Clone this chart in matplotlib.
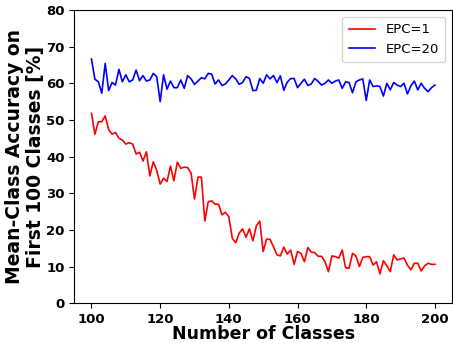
import matplotlib
matplotlib.use("Agg")
import matplotlib.pyplot as plt
import numpy as np

classes = list(range(100, 201))

epc1 = [51.8, 46.1, 49.5, 49.5, 51.1, 47.4, 46.1, 46.6, 45.0, 44.5,
        43.4, 43.8, 43.4, 40.7, 41.2, 38.8, 41.3, 34.7, 38.6, 36.2,
        32.5, 34.1, 33.2, 37.4, 33.4, 38.5, 36.8, 37.1, 37.0, 35.5,
        28.4, 34.4, 34.4, 22.4, 27.7, 27.9, 27.0, 27.0, 24.1, 24.8,
        23.6, 17.7, 16.5, 19.1, 20.3, 18.0, 20.3, 17.0, 21.1, 22.4,
        14.1, 17.5, 17.4, 15.4, 13.2, 12.9, 15.3, 13.4, 14.5, 10.6,
        14.1, 13.6, 11.3, 15.2, 13.9, 13.8, 12.8, 12.8, 11.3, 8.6,
        12.9, 12.7, 12.3, 14.5, 9.7, 9.5, 13.6, 12.9, 10.0, 12.5,
        12.7, 12.7, 10.4, 11.3, 8.0, 11.6, 10.2, 8.6, 13.2, 11.8,
        12.1, 12.3, 10.4, 9.1, 10.9, 10.9, 8.8, 10.2, 10.9, 10.6,
        10.6]

epc20 = [66.6, 61.1, 60.4, 57.3, 65.4, 58.0, 60.2, 59.5, 63.8, 60.4,
         62.3, 60.4, 60.9, 63.6, 60.7, 62.1, 60.6, 60.9, 62.7, 61.8,
         55.0, 62.3, 58.4, 60.6, 58.8, 58.8, 60.9, 58.6, 62.1, 61.2,
         59.7, 60.6, 61.5, 61.2, 62.7, 62.5, 59.8, 60.9, 59.4, 59.8,
         60.9, 62.1, 61.2, 59.7, 60.2, 61.8, 61.3, 58.0, 58.1, 61.3,
         60.0, 62.3, 61.2, 62.1, 60.2, 62.0, 58.1, 60.3, 61.3, 61.3,
         58.8, 60.0, 61.1, 59.4, 59.8, 61.3, 60.5, 59.5, 60.0, 60.9,
         60.0, 60.6, 60.9, 58.6, 60.4, 60.2, 57.4, 60.4, 60.9, 61.2,
         55.3, 60.9, 59.1, 59.3, 59.1, 56.5, 60.0, 58.2, 60.2, 59.5,
         59.1, 60.0, 57.1, 59.3, 60.6, 58.2, 60.0, 58.6, 57.7, 58.8,
         59.5]

xticks = [100, 120, 140, 160, 180, 200]
yticks = [0, 10, 20, 30, 40, 50, 60, 70, 80]

fig = plt.figure(figsize=(4.53, 3.43), dpi=100)
ax = fig.add_axes([0.164, 0.116, 0.834, 0.855])

ax.plot(classes, epc1, color="red", linewidth=1.2, label="EPC=1")
ax.plot(classes, epc20, color="blue", linewidth=1.2, label="EPC=20")

ax.set_xlim(95, 205)
ax.set_ylim(0, 80)
ax.set_xticks(xticks)
ax.set_yticks(yticks)
for lbl in ax.get_xticklabels() + ax.get_yticklabels():
    lbl.set_fontweight("bold")
    lbl.set_fontsize(9.5)

ax.set_xlabel("Number of Classes", fontsize=12.5, fontweight="bold", labelpad=-1)
ax.set_ylabel("Mean-Class Accuracy on\nFirst 100 Classes [%]", fontsize=13.5,
              fontweight="bold", labelpad=1, linespacing=1.1)

ax.legend(loc="upper right", fontsize=9.5, borderpad=0.5)

fig.savefig("out.png", dpi=100)
